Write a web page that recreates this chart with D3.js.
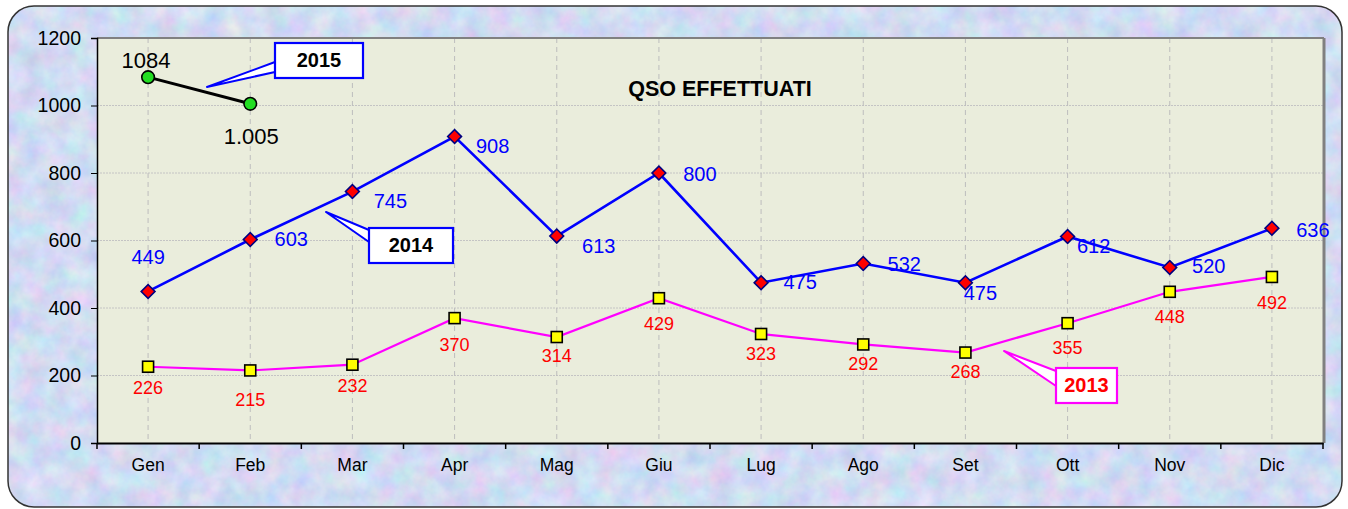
<!DOCTYPE html>
<html>
<head>
<meta charset="utf-8">
<script src="https://cdn.jsdelivr.net/npm/d3@7"></script>
<style>
  body { margin: 0; background: #fff; }
  text { font-family: Arial, "Liberation Sans", sans-serif; }
</style>
</head>
<body>
<div class="vis-qso"></div>
<script>
const months = ["Gen", "Feb", "Mar", "Apr", "Mag", "Giu", "Lug", "Ago", "Set", "Ott", "Nov", "Dic"];
const yTicks = [0, 200, 400, 600, 800, 1000, 1200];
const qso2013 = [226, 215, 232, 370, 314, 429, 323, 292, 268, 355, 448, 492];
const qso2014 = [449, 603, 745, 908, 613, 800, 475, 532, 475, 612, 520, 636];
const qso2015 = [1084, 1005];
const labels2015 = ["1084", "1.005"];

const draw = () => {
    const W = 1348, H = 509;
    const margin = {top: 38, right: 25, bottom: 66, left: 97};
    const width = W - margin.left - margin.right;
    const height = H - margin.top - margin.bottom;

    const svg = d3.select('.vis-qso').append('svg')
        .attr('width', W)
        .attr('height', H);

    // textured pastel background inside the rounded frame
    const defs = svg.append('defs');
    const f = defs.append('filter').attr('id', 'tex')
        .attr('color-interpolation-filters', 'sRGB')
        .attr('x', 0).attr('y', 0).attr('width', '100%').attr('height', '100%');
    f.append('feTurbulence')
        .attr('type', 'fractalNoise')
        .attr('baseFrequency', 0.045)
        .attr('numOctaves', 4)
        .attr('seed', 7);
    f.append('feColorMatrix')
        .attr('type', 'matrix')
        .attr('values', '0.26 0 0 0 0.69  0 0.2 0 0 0.76  0 0 0.1 0 0.9  0 0 0 0 1');
    defs.append('clipPath').attr('id', 'frame')
        .append('rect')
        .attr('x', 8).attr('y', 6).attr('width', 1334).attr('height', 501)
        .attr('rx', 26);

    svg.append('rect')
        .attr('x', 8).attr('y', 6).attr('width', 1334).attr('height', 501)
        .attr('clip-path', 'url(#frame)')
        .attr('filter', 'url(#tex)');
    svg.append('rect')
        .attr('x', 8).attr('y', 6).attr('width', 1334).attr('height', 501)
        .attr('rx', 26)
        .attr('fill', 'none')
        .attr('stroke', '#333')
        .attr('stroke-width', 1.5);

    const g = svg.append('g')
        .attr('transform', 'translate(' + margin.left + ',' + margin.top + ')');

    const x = d3.scaleBand().domain(months).range([0, width]).padding(0);
    const xc = d => x(d) + x.bandwidth() / 2;
    const y = d3.scaleLinear().domain([0, 1200]).range([height, 0]);

    // plot area
    g.append('rect')
        .attr('width', width).attr('height', height)
        .attr('fill', '#EAEDDC');

    // horizontal gridlines
    g.selectAll('.hgrid')
        .data(yTicks.filter(d => d > 0))
        .enter().append('line')
        .attr('x1', 0).attr('x2', width)
        .attr('y1', d => y(d)).attr('y2', d => y(d))
        .attr('stroke', '#C4C4C4')
        .attr('stroke-width', 1)
        .attr('stroke-dasharray', '2,1');

    // vertical dashed lines at categories
    g.selectAll('.vgrid')
        .data(months)
        .enter().append('line')
        .attr('x1', d => xc(d)).attr('x2', d => xc(d))
        .attr('y1', 0).attr('y2', height)
        .attr('stroke', '#BDBDBD')
        .attr('stroke-width', 1)
        .attr('stroke-dasharray', '5,4');

    // gray top / right border of the plot
    g.append('line')
        .attr('x1', 0).attr('x2', width + 1).attr('y1', 0).attr('y2', 0)
        .attr('stroke', '#808080').attr('stroke-width', 2);
    g.append('line')
        .attr('x1', width + 1).attr('x2', width + 1).attr('y1', 0).attr('y2', height)
        .attr('stroke', '#808080').attr('stroke-width', 3);

    // axes
    const yAxis = g.append('g')
        .call(d3.axisLeft(y).tickValues(yTicks).tickFormat(d3.format('d')).tickSize(6).tickPadding(10));
    yAxis.select('.domain').attr('stroke', '#000').attr('stroke-width', 1.5);
    yAxis.selectAll('text').style('font-size', '19.5px').attr('fill', '#000');

    const xAxis = g.append('g')
        .attr('transform', 'translate(0,' + height + ')')
        .call(d3.axisBottom(x).tickSize(0).tickPadding(16));
    xAxis.select('.domain').attr('stroke', '#000').attr('stroke-width', 2);
    xAxis.selectAll('text').style('font-size', '17.5px').attr('fill', '#000');
    // ticks at the band boundaries
    g.selectAll('.xtick')
        .data(months.concat(['end']))
        .enter().append('line')
        .attr('x1', (d, i) => i * x.bandwidth()).attr('x2', (d, i) => i * x.bandwidth())
        .attr('y1', height).attr('y2', height + 6)
        .attr('stroke', '#000').attr('stroke-width', 1.5);

    // title
    g.append('text')
        .attr('x', 623).attr('y', 52)
        .attr('text-anchor', 'middle')
        .attr('dominant-baseline', 'middle')
        .style('font-size', '21.5px')
        .style('font-weight', 'bold')
        .text('QSO EFFETTUATI');

    const line = d3.line()
        .x((d, i) => xc(months[i]))
        .y(d => y(d));

    // 2013
    g.append('path')
        .datum(qso2013)
        .attr('fill', 'none')
        .attr('stroke', '#FF00FF')
        .attr('stroke-width', 2.2)
        .attr('d', line);
    g.selectAll('.sq13')
        .data(qso2013)
        .enter().append('rect')
        .attr('x', (d, i) => xc(months[i]) - 5.5)
        .attr('y', d => y(d) - 5.5)
        .attr('width', 11).attr('height', 11)
        .attr('fill', '#FFFF00')
        .attr('stroke', '#000')
        .attr('stroke-width', 1.6);
    const nudge13 = [23, 31, 23, 28, 20, 27, 21, 21, 21, 26, 26, 27];
    g.selectAll('.lab13')
        .data(qso2013)
        .enter().append('text')
        .attr('x', (d, i) => xc(months[i]))
        .attr('y', (d, i) => y(d) + nudge13[i])
        .attr('text-anchor', 'middle')
        .attr('dominant-baseline', 'middle')
        .attr('fill', '#FF0000')
        .style('font-size', '18px')
        .text(d => d);

    // 2014
    g.append('path')
        .datum(qso2014)
        .attr('fill', 'none')
        .attr('stroke', '#0000FF')
        .attr('stroke-width', 2.6)
        .attr('d', line);
    g.selectAll('.dm14')
        .data(qso2014)
        .enter().append('path')
        .attr('d', d3.symbol().type(d3.symbolSquare).size(95))
        .attr('transform', (d, i) => 'translate(' + xc(months[i]) + ',' + y(d) + ') rotate(45)')
        .attr('fill', '#FF0000')
        .attr('stroke', '#000080')
        .attr('stroke-width', 1.6);
    const nudge14 = [[0, -33], [41, 1], [38, 11], [38, 11], [42, 12], [41, 3],
                     [39, 1], [41, 2], [15, 12], [26, 11], [39, 0], [41, 3]];
    g.selectAll('.lab14')
        .data(qso2014)
        .enter().append('text')
        .attr('x', (d, i) => xc(months[i]) + nudge14[i][0])
        .attr('y', (d, i) => y(d) + nudge14[i][1])
        .attr('text-anchor', 'middle')
        .attr('dominant-baseline', 'middle')
        .attr('fill', '#0000FF')
        .style('font-size', '20px')
        .text(d => d);

    // 2015
    g.append('path')
        .datum(qso2015)
        .attr('fill', 'none')
        .attr('stroke', '#000')
        .attr('stroke-width', 3)
        .attr('d', line);
    g.selectAll('.c15')
        .data(qso2015)
        .enter().append('circle')
        .attr('cx', (d, i) => xc(months[i]))
        .attr('cy', d => y(d))
        .attr('r', 6.3)
        .attr('fill', '#22DD22')
        .attr('stroke', '#000')
        .attr('stroke-width', 1.6);
    const nudge15 = [[-2, -14.5], [1, 34]];
    g.selectAll('.lab15')
        .data(qso2015)
        .enter().append('text')
        .attr('x', (d, i) => xc(months[i]) + nudge15[i][0])
        .attr('y', (d, i) => y(d) + nudge15[i][1])
        .attr('text-anchor', 'middle')
        .attr('dominant-baseline', 'middle')
        .attr('fill', '#000')
        .style('font-size', '22px')
        .text((d, i) => labels2015[i]);

    // callout boxes (page coordinates)
    const callouts = [
        {text: '2015', box: [275, 43, 88, 35], tip: [207, 87], base: [62, 72], stroke: '#0000FF', fill: '#000'},
        {text: '2014', box: [369, 228, 84, 35], tip: [326, 212], base: [230, 242], stroke: '#0000FF', fill: '#000'},
        {text: '2013', box: [1056, 368, 61, 35], tip: [1004, 351], base: [371, 386], stroke: '#FF00FF', fill: '#FF0000'}
    ];
    callouts.forEach(c => {
        const [bx, by, bw, bh] = c.box;
        svg.append('path')
            .attr('d', 'M' + bx + ',' + c.base[0] + 'L' + c.tip[0] + ',' + c.tip[1] + 'L' + bx + ',' + c.base[1] + 'Z')
            .attr('fill', '#fff')
            .attr('stroke', c.stroke)
            .attr('stroke-width', 2)
            .attr('stroke-linejoin', 'round');
        svg.append('rect')
            .attr('x', bx).attr('y', by).attr('width', bw).attr('height', bh)
            .attr('fill', '#fff')
            .attr('stroke', c.stroke)
            .attr('stroke-width', 2.2);
        svg.append('text')
            .attr('x', bx + bw / 2).attr('y', by + bh / 2 + 1)
            .attr('text-anchor', 'middle')
            .attr('dominant-baseline', 'middle')
            .attr('fill', c.fill)
            .style('font-size', '20px')
            .style('font-weight', 'bold')
            .text(c.text);
    });
};

draw();
</script>
</body>
</html>
